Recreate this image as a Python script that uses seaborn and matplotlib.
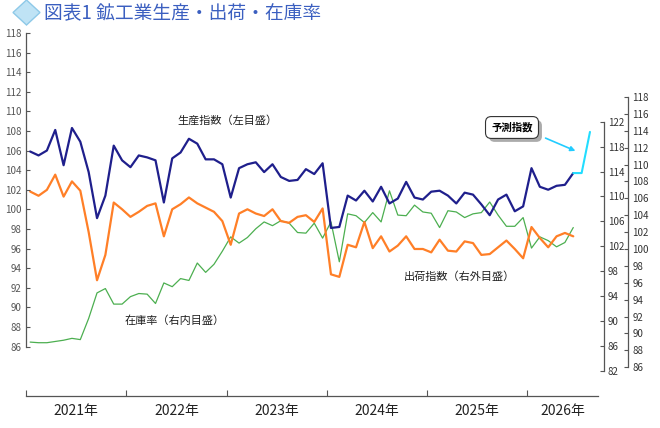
import matplotlib
matplotlib.use('Agg')
import matplotlib.pyplot as plt
import matplotlib.patheffects as pe
from matplotlib.patches import Polygon
import numpy as np
import pandas as pd
import seaborn as sns

sns.set_style('white')
plt.rcParams['font.family'] = ['Noto Sans CJK JP', 'DejaVu Sans']

### data (monthly, 2021-01 .. 2026-06, forecast to 2026-08)
years = ['2021年', '2022年', '2023年', '2024年', '2025年', '2026年']

production = [105.9, 105.5, 106.0, 108.1, 104.5, 108.3, 106.9, 103.8, 99.1, 101.4,
              106.5, 105.0, 104.3, 105.5, 105.3, 105.0, 100.7,
              105.2, 105.8, 107.2, 106.7, 105.1, 105.1, 104.6, 101.2, 104.2,
              104.6, 104.8, 103.8, 104.6, 103.3, 102.9, 103.0, 104.1, 103.6,
              104.7, 98.1, 98.2, 101.4, 100.9, 101.9, 100.8, 102.3, 100.6,
              101.1, 102.8, 101.2, 101.0, 101.8, 101.9, 101.4, 100.6,
              101.7, 101.5, 100.5, 99.4, 101.0, 101.5, 99.8, 100.3, 104.2,
              102.3, 102.0, 102.4, 102.5, 103.7]

shipments = [106.8, 106.3, 107.0, 108.8, 106.2, 108.0, 106.9, 102.0, 96.3, 99.3,
             105.5, 104.7, 103.8, 104.4, 105.1, 105.4, 101.5,
             104.7, 105.3, 106.1, 105.4, 104.9, 104.4, 103.3, 100.5, 104.2,
             104.7, 104.2, 103.9, 104.7, 103.3, 103.1, 103.8, 104.0, 103.2,
             104.8, 97.0, 96.7, 100.5, 100.2, 103.2, 100.1, 101.5, 99.7,
             100.4, 101.5, 100.0, 100.0, 99.6, 101.1, 99.8, 99.7,
             100.9, 100.7, 99.3, 99.4, 100.2, 101.0, 100.0, 98.9, 102.6,
             101.3, 100.2, 101.5, 101.9, 101.5]

inventory = [86.6, 86.5, 86.5, 86.7, 86.9, 87.2, 87.0, 90.4, 94.5, 95.2,
             92.7, 92.7, 93.9, 94.4, 94.3, 92.8, 96.1,
             95.5, 96.8, 96.5, 99.3, 97.8, 99.1, 101.2, 103.5, 102.5,
             103.4, 104.8, 105.9, 105.3, 106.1, 105.7, 104.2, 104.1, 105.7,
             103.3, 105.9, 99.5, 107.2, 106.9, 105.8, 107.4, 105.9, 110.9,
             107.0, 106.9, 108.6, 107.5, 107.3, 105.0, 107.7, 107.5,
             106.6, 107.2, 107.4, 109.1, 107.0, 105.2, 105.2, 106.6, 101.7,
             103.5, 102.9, 101.9, 102.6, 105.0]

forecast = [103.7, 103.7, 107.9]

months = np.arange(len(production))
fc_months = np.arange(len(production) - 1, len(production) - 1 + len(forecast))

df = pd.DataFrame({'month': months, 'production': production,
                   'shipments': shipments, 'inventory': inventory})
df_fc = pd.DataFrame({'month': fc_months, 'forecast': forecast})

W, H = 660, 428
fig = plt.figure(figsize=(W / 100, H / 100), dpi=100)
ax = fig.add_axes([26 / W, 1 - 396 / H, (598 - 26) / W, (396 - 30) / H])
ax_g = ax.twinx()
ax_o = ax.twinx()

sns.lineplot(data=df, x='month', y='inventory', ax=ax_g, color='#4caf50', lw=0.9)
sns.lineplot(data=df, x='month', y='shipments', ax=ax_o, color='#ff7f27', lw=1.6)
sns.lineplot(data=df, x='month', y='production', ax=ax, color='#1f1f8c', lw=1.6)
sns.lineplot(data=df_fc, x='month', y='forecast', ax=ax, color='#22ddff', lw=1.5)

ax.set_zorder(3)
ax_o.set_zorder(2)
ax_g.set_zorder(1)
for a in (ax, ax_o):
    a.patch.set_visible(False)

ax.set_xlim(-0.5, 67.96)
ax.set_ylim(80.95, 118.30)
ax_o.set_ylim(82.60, 125.92)
ax_g.set_ylim(77.94, 136.73)

spine_col = '#555555'
for a in (ax, ax_g, ax_o):
    for s in a.spines.values():
        s.set_visible(False)
    a.set_xlabel('')
    a.set_ylabel('')

ax.spines['left'].set_visible(True)
ax.spines['left'].set_bounds(86, 118)
ax.spines['bottom'].set_visible(True)
ax_g.spines['right'].set_visible(True)
ax_g.spines['right'].set_position(('outward', 4.5))
ax_g.spines['right'].set_bounds(82, 122)
ax_o.spines['right'].set_visible(True)
ax_o.spines['right'].set_position(('outward', 21.8))
ax_o.spines['right'].set_bounds(86, 118)
for sp in (ax.spines['left'], ax.spines['bottom'], ax_g.spines['right'], ax_o.spines['right']):
    sp.set_color(spine_col)
    sp.set_linewidth(0.9)

ax.set_yticks(range(86, 119, 2))
ax_g.set_yticks(range(82, 123, 4))
ax_o.set_yticks(range(86, 119, 2))
ax.tick_params(axis='y', direction='in', length=3, labelsize=7, pad=3,
               color=spine_col, labelcolor='#555555', left=True)
for a, p in ((ax_g, 2.5), (ax_o, 3)):
    a.tick_params(axis='y', direction='in', length=3, labelsize=7, pad=p,
                  color=spine_col, labelcolor='#333333', right=True)

# year boundaries as ticks, year names at the centres
ax.set_xticks([-0.5, 11.5, 23.5, 35.5, 47.5, 59.5])
ax.set_xticklabels([])
ax.set_xticks([5.5, 17.5, 29.5, 41.5, 53.5, 63.75], minor=True)
ax.set_xticklabels(years, minor=True)
ax.tick_params(axis='x', which='major', direction='in', length=4, color=spine_col, bottom=True)
ax.tick_params(axis='x', which='minor', length=0, labelsize=10, pad=6, labelcolor='#222222')

# title
fig.add_artist(Polygon([[13 / W, 1 - 12.5 / H], [26.5 / W, 1], [40 / W, 1 - 12.5 / H],
                        [26.5 / W, 1 - 25 / H]], closed=True, transform=fig.transFigure,
                       facecolor='#bfe3f5', edgecolor='#8ec9e8', lw=1))
fig.text(44 / W, 1 - 14 / H, '図表1 鉱工業生産・出荷・在庫率', fontsize=13.5,
         color='#3b5fc0', va='center', ha='left')

# series labels
fig.text(227 / W, 1 - 120 / H, '生産指数（左目盛）', fontsize=8, ha='center', va='center', color='#222222')
fig.text(175 / W, 1 - 321 / H, '在庫率（右内目盛）', fontsize=8, ha='center', va='center', color='#222222')
fig.text(459 / W, 1 - 277 / H, '出荷指数（右外目盛）', fontsize=8, ha='center', va='center', color='#222222')

# forecast callout (box with drop shadow)
callout = fig.text(512 / W, 1 - 127.5 / H, '予測指数', fontsize=7.5, fontweight='bold',
                   ha='center', va='center', color='black',
                   bbox=dict(boxstyle='round,pad=0.55', fc='white', ec='#333333', lw=0.8))
callout.get_bbox_patch().set_path_effects([
    pe.SimplePatchShadow(offset=(2.5, -2.5), shadow_rgbFace='#888888', alpha=0.7),
    pe.Normal()])
ax.annotate('', xy=(578 / W, 1 - 152 / H), xytext=(543 / W, 1 - 137 / H),
            xycoords='figure fraction', textcoords='figure fraction',
            arrowprops=dict(arrowstyle='-|>', color='#22ccff', lw=1.2, mutation_scale=7))

plt.savefig('out.png', dpi=100)
